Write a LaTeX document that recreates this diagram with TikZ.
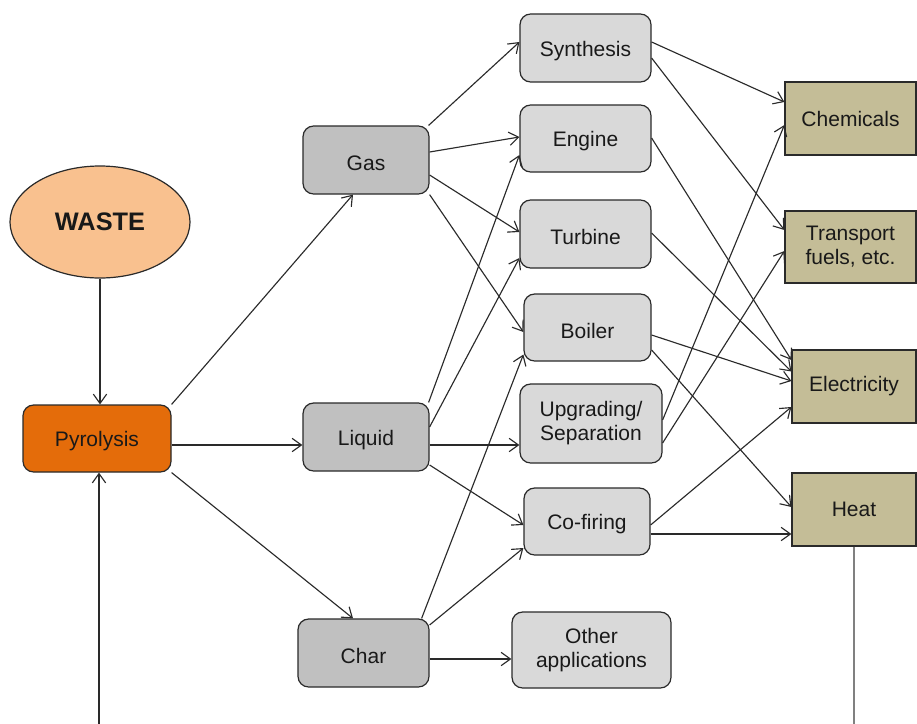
\documentclass[tikz,border=0pt]{standalone}
\usepackage{fontspec}
\setmainfont{Liberation Sans}
\usetikzlibrary{arrows.meta,calc,shapes.geometric}
\definecolor{wastefill}{HTML}{F9C18F}
\definecolor{pyrofill}{HTML}{E46C0A}
\definecolor{prodfill}{HTML}{C0C0C0}
\definecolor{procfill}{HTML}{D9D9D9}
\definecolor{outfill}{HTML}{C4BD97}
\definecolor{edgecol}{HTML}{2A2A2A}
\tikzset{
  x=0.75pt, y=-0.75pt,
  base/.style={draw=edgecol, line width=0.9pt, align=center, inner sep=2pt,
    font=\fontsize{15.75}{18}\selectfont, text=black!90},
  rbox/.style={base, rounded corners=8pt},
  oneline/.style={execute at begin node={\rule{0pt}{16pt}}},
  prod/.style={rbox, fill=prodfill},
  proc/.style={rbox, fill=procfill},
  outbox/.style={base, fill=outfill},
  conn/.style={draw=edgecol, line width=0.85pt, -{Straight Barb[length=7pt,width=10pt]}},
}
\begin{document}
\begin{tikzpicture}
\useasboundingbox (0,0) rectangle (917,724);
\fill[white] (0,0) rectangle (917,724);

% nodes
\node[base, ellipse, fill=wastefill, minimum width=135pt, minimum height=84pt,
  font=\fontsize{19}{21}\selectfont\bfseries] (waste) at (100,222) {WASTE};
\node[rbox, oneline, fill=pyrofill, minimum width=111pt, minimum height=50.25pt] (pyro) at (97,438.5) {Pyrolysis};

\node[prod, oneline, minimum width=94.5pt, minimum height=51pt] (gas) at (366,160) {Gas};
\node[prod, oneline, minimum width=94.5pt, minimum height=51pt] (liq) at (366,437) {Liquid};
\node[prod, oneline, minimum width=98.25pt, minimum height=51pt] (char) at (363.5,653) {Char};

\node[proc, oneline, minimum width=98.25pt, minimum height=51pt] (syn) at (585.5,48) {Synthesis};
\node[proc, oneline, minimum width=98.25pt, minimum height=50.25pt] (eng) at (585.5,138.5) {Engine};
\node[proc, oneline, minimum width=98.25pt, minimum height=51pt] (tur) at (585.5,234) {Turbine};
\node[proc, oneline, minimum width=95.25pt, minimum height=50.25pt] (boi) at (587.5,327.5) {Boiler};
\node[proc, minimum width=106.5pt, minimum height=59.25pt] (upg) at (591,423.5) {Upgrading/\\Separation};
\node[proc, oneline, minimum width=94.5pt, minimum height=50.25pt] (cof) at (587,521.5) {Co-firing};
\node[proc, minimum width=119.25pt, minimum height=57pt] (oth) at (591.5,650) {Other\\applications};

\node[outbox, minimum width=98.25pt, minimum height=54.75pt] (chem) at (850.5,118.5) {Chemicals};
\node[outbox, minimum width=98.25pt, minimum height=54pt] (trans) at (850.5,247) {Transport\\fuels, etc.};
\node[outbox, minimum width=93pt, minimum height=54.75pt] (elec) at (854,386.5) {Electricity};
\node[outbox, minimum width=93pt, minimum height=54.75pt] (heat) at (854,509.5) {Heat};

\coordinate (fb) at (99,726);
\coordinate (heatout) at (854,726);

% connectors
\draw[conn] (waste.south) -- (waste.south |- pyro.north);
\draw[conn] (fb) -- (fb |- pyro.south);
\draw[draw=gray, line width=1.1pt] (heat.south -| heatout) -- (heatout);

\draw[conn] (pyro.north east) -- ($(gas.south)+(-13,0)$);
\draw[conn] ($(pyro.east)+(0,6.5)$) -- ($(liq.west)+(0,8)$);
\draw[conn] (pyro.south east) -- ($(char.north)+(-10.5,0)$);

\draw[conn] ($(gas.north east)+(-1,0)$) -- ($(syn.west)+(0,-6)$);
\draw[conn] ($(gas.east)+(0,-8)$) -- ($(eng.west)+(0,-1.5)$);
\draw[conn] ($(gas.east)+(0,15)$) -- ($(tur.west)+(0,-2)$);
\draw[conn] (gas.south east) -- ($(boi.west)+(0,4.5)$);

\draw[conn] ($(liq.north east)+(-1,0)$) -- ($(eng.west)+(0,16.5)$);
\draw[conn] ($(liq.east)+(0,-10)$) -- ($(tur.west)+(0,24)$);
\draw[conn] ($(liq.east)+(0,8)$) -- ($(upg.west)+(0,21.5)$);
\draw[conn] ($(liq.east)+(0,28)$) -- ($(cof.west)+(0,3.5)$);

\draw[conn] ($(char.north east)+(-8,0)$) -- ($(boi.west)+(0,27)$);
\draw[conn] ($(char.east)+(0,-28)$) -- ($(cof.west)+(0,26.5)$);
\draw[conn] ($(char.east)+(0,6)$) -- ($(oth.west)+(0,9)$);

\draw[conn] ($(syn.east)+(0,-6)$) -- ($(chem.west)+(0,-16.5)$);
\draw[conn] ($(syn.east)+(0,10)$) -- ($(trans.west)+(0,-17)$);
\draw[conn] ($(eng.east)+(0,-0.5)$) -- ($(elec.west)+(0,-26.5)$);
\draw[conn] ($(tur.east)+(0,-1)$) -- ($(elec.west)+(0,-15)$);
\draw[conn] ($(boi.east)+(0,7.5)$) -- ($(elec.west)+(0,-5.5)$);
\draw[conn] ($(boi.east)+(0,22.5)$) -- ($(heat.west)+(0,-2.5)$);
\draw[conn] ($(upg.east)+(0,-3.5)$) -- ($(chem.west)+(0,6.5)$);
\draw[conn] ($(upg.east)+(0,19.5)$) -- ($(trans.west)+(0,4)$);
\draw[conn] ($(cof.east)+(0,3.5)$) -- ($(elec.west)+(0,20.5)$);
\draw[conn] ($(cof.east)+(0,12.5)$) -- ($(heat.west)+(0,24.5)$);
\end{tikzpicture}
\end{document}
